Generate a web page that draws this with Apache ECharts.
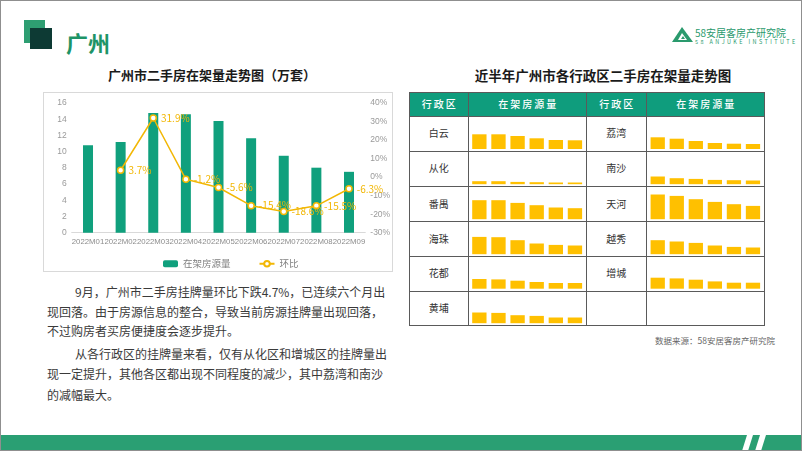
<!DOCTYPE html>
<html>
<head>
<meta charset="utf-8">
<script src="https://cdn.jsdelivr.net/npm/echarts@6/dist/echarts.min.js"></script>
<style>
  html,body{margin:0;padding:0;background:#fff;}
  #page{position:relative;width:802px;height:451px;overflow:hidden;background:#fff;font-family:"Noto Sans CJK SC","Noto Sans",sans-serif;}
  .abs{position:absolute;}
  .pline{position:absolute;font-size:12px;line-height:18px;color:#3a3a3a;white-space:nowrap;}
  .hcell{position:absolute;color:#fff;font-size:10px;line-height:14px;text-align:center;letter-spacing:2px;font-weight:500;}
  .dcell{position:absolute;color:#333;font-size:10px;line-height:14px;text-align:center;}
</style>
</head>
<body>
<div id="page">
  <!-- header icon -->
  <div class="abs" style="left:24px;top:20px;width:21px;height:23px;background:#2e9e72;"></div>
  <div class="abs" style="left:30px;top:28px;width:22px;height:21px;background:#0d3a34;"></div>
  <div class="abs" style="left:66px;top:28px;font-size:22px;line-height:28px;font-weight:700;color:#1e9467;">广州</div>
  <!-- logo -->
  <svg class="abs" style="left:672px;top:27px;" width="22" height="16" viewBox="0 0 22 16">
    <polygon points="10,0 21,15 0,15" fill="#2a9a6d"/>
    <polygon points="10,6 15,13 6,13" fill="#fff"/>
    <polygon points="11,9 13,12 9,12" fill="#2a9a6d"/>
  </svg>
  <div class="abs" style="left:695px;top:27px;font-size:10px;line-height:11px;color:#2a9a6d;white-space:nowrap;">58安居客房产研究院</div>
  <div class="abs" style="left:695px;top:38.5px;font-size:5.5px;line-height:6px;color:#2a9a6d;letter-spacing:2.4px;white-space:nowrap;">58 ANJUKE INSTITUTE</div>

  <!-- chart titles -->
  <div class="abs" style="left:62px;top:66px;width:300px;text-align:center;font-size:13px;line-height:18px;font-weight:700;color:#1a1a1a;">广州市二手房在架量走势图（万套）</div>
  <div class="abs" style="left:453px;top:66px;width:300px;text-align:center;font-size:13.5px;line-height:18px;font-weight:700;color:#1a1a1a;">近半年广州市各行政区二手房在架量走势图</div>

  <!-- main chart box -->
  <div class="abs" style="left:43px;top:92px;width:348px;height:178px;border:1px solid #d9d9d9;"></div>

  <!-- paragraph -->
  <div class="pline" style="left:75px;top:283px;">9月，广州市二手房挂牌量环比下跌4.7%，已连续六个月出</div>
  <div class="pline" style="left:47px;top:303px;">现回落。由于房源信息的整合，导致当前房源挂牌量出现回落，</div>
  <div class="pline" style="left:47px;top:322px;">不过购房者买房便捷度会逐步提升。</div>
  <div class="pline" style="left:75px;top:345px;">从各行政区的挂牌量来看，仅有从化区和增城区的挂牌量出</div>
  <div class="pline" style="left:47px;top:365px;">现一定提升，其他各区都出现不同程度的减少，其中荔湾和南沙</div>
  <div class="pline" style="left:47px;top:386px;">的减幅最大。</div>

  <!-- table container -->
  <div id="table"></div>

  <div class="abs" style="left:600px;top:334px;width:175px;text-align:right;font-size:8.5px;line-height:12px;color:#666;white-space:nowrap;">数据来源：58安居客房产研究院</div>

  <div id="chart" class="abs" style="left:0;top:0;width:802px;height:451px;"></div>

  <!-- bottom band -->
  <div class="abs" style="left:0;top:435px;width:802px;height:16px;background:#2a9f73;"></div>
  <svg class="abs" style="left:0;top:435px;" width="802" height="16">
    <polygon points="747,0 753,0 748,16 742,16" fill="#fff"/>
    <polygon points="760,0 766,0 761,16 755,16" fill="#fff"/>
  </svg>
  <div class="abs" style="left:0;top:0;width:800px;height:449px;border:1px solid #8f8f8f;pointer-events:none;"></div>
</div>
<script>
// ---------- data ----------
const months = ['2022M01','2022M02','2022M03','2022M04','2022M05','2022M06','2022M07','2022M08','2022M09'];
const stock = [10.8, 11.2, 14.77, 14.6, 13.78, 11.66, 9.49, 8.02, 7.51];      // 在架房源量（万套）
const mom = [null, 3.7, 31.9, -1.2, -5.6, -15.4, -18.6, -15.5, -6.3];         // 环比 %
const leftTicks = [0, 2, 4, 6, 8, 10, 12, 14, 16];
const rightTicks = [-30, -20, -10, 0, 10, 20, 30, 40];

const districtMonths = ['2022M04','2022M05','2022M06','2022M07','2022M08','2022M09'];
const leftDistricts = ['白云','从化','番禺','海珠','花都','黄埔'];
const rightDistricts = ['荔湾','南沙','天河','越秀','增城'];
const baiyun   = [1.47, 1.47, 1.30, 1.07, 0.90, 0.87];
const conghua  = [0.30, 0.30, 0.23, 0.20, 0.17, 0.17];
const panyu    = [1.90, 1.90, 1.63, 1.40, 1.17, 1.10];
const haizhu   = [1.73, 1.70, 1.40, 1.07, 0.93, 0.87];
const huadu    = [0.97, 0.93, 0.80, 0.67, 0.57, 0.57];
const huangpu  = [1.07, 1.03, 0.80, 0.73, 0.57, 0.57];
const liwan    = [1.17, 1.03, 0.80, 0.60, 0.53, 0.50];
const nansha   = [0.77, 0.60, 0.53, 0.43, 0.40, 0.37];
const tianhe   = [2.47, 2.33, 2.00, 1.73, 1.50, 1.33];
const yuexiu   = [1.40, 1.27, 1.13, 0.87, 0.73, 0.67];
const zengcheng= [1.10, 1.03, 0.90, 0.73, 0.60, 0.60];
const leftValues = [baiyun, conghua, panyu, haizhu, huadu, huangpu];
const rightValues = [liwan, nansha, tianhe, yuexiu, zengcheng];
const miniMax = 3.0;

// ---------- table layout ----------
const colX = [409, 468.3, 586, 646.7, 764];
const rowY = [92.5, 116, 151.3, 186.5, 221.5, 256.5, 291, 325.5];
const lineColor = '#5a5a5a';
const tbl = document.getElementById('table');
function add(html){ tbl.insertAdjacentHTML('beforeend', html); }
add(`<div class="abs" style="left:${colX[0]}px;top:${rowY[0]}px;width:${colX[4]-colX[0]}px;height:${rowY[1]-rowY[0]}px;background:#0f9d7d;"></div>`);
rowY.forEach(y => add(`<div class="abs" style="left:${colX[0]}px;top:${y-0.5}px;width:${colX[4]-colX[0]+1}px;height:1px;background:${lineColor};"></div>`));
colX.forEach(x => add(`<div class="abs" style="left:${x-0.5}px;top:${rowY[0]}px;width:1px;height:${rowY[rowY.length-1]-rowY[0]}px;background:${lineColor};"></div>`));
const headers = ['行政区','在架房源量','行政区','在架房源量'];
headers.forEach((h,i) => add(`<div class="hcell" style="left:${colX[i]+1}px;top:${(rowY[0]+rowY[1])/2-7}px;width:${colX[i+1]-colX[i]}px;">${h}</div>`));
leftDistricts.forEach((d,i) => add(`<div class="dcell" style="left:${colX[0]}px;top:${(rowY[i+1]+rowY[i+2])/2-7.5}px;width:${colX[1]-colX[0]}px;">${d}</div>`));
rightDistricts.forEach((d,i) => add(`<div class="dcell" style="left:${colX[2]}px;top:${(rowY[i+1]+rowY[i+2])/2-7.5}px;width:${colX[3]-colX[2]}px;">${d}</div>`));

// ---------- echarts ----------
const chart = echarts.init(document.getElementById('chart'), null, {renderer:'canvas'});
const gold = '#F2B705';
const grids = [{left:71.7, top:103, width:293.6, height:129.7}];
const xAxes = [{
  type:'category', data:months, gridIndex:0,
  axisLine:{lineStyle:{color:'#d9d9d9'}}, axisTick:{show:false},
  axisLabel:{color:'#8c8c8c', fontSize:7.8, fontFamily:'"Liberation Sans",sans-serif', margin:5, interval:0, hideOverlap:false}
}];
const yAxes = [
  {type:'value', gridIndex:0, min:leftTicks[0], max:leftTicks[leftTicks.length-1], interval:leftTicks[1]-leftTicks[0],
   splitLine:{show:false}, axisLine:{show:false}, axisTick:{show:false},
   axisLabel:{color:'#9a9a9a', fontSize:8.5, fontFamily:'"Liberation Sans",sans-serif', margin:5}},
  {type:'value', gridIndex:0, position:'right', min:rightTicks[0], max:rightTicks[rightTicks.length-1], interval:rightTicks[1]-rightTicks[0],
   splitLine:{show:false}, axisLine:{show:false}, axisTick:{show:false},
   axisLabel:{color:'#9a9a9a', fontSize:8.5, fontFamily:'"Liberation Sans",sans-serif', margin:5, formatter:'{value}%'}}
];
const series = [
  {name:'在架房源量', type:'bar', xAxisIndex:0, yAxisIndex:0, data:stock, barWidth:10,
   itemStyle:{color:'#10a07d'}},
  {name:'环比', type:'line', xAxisIndex:0, yAxisIndex:1, data:mom,
   lineStyle:{color:gold, width:1.5}, symbol:'circle', symbolSize:6,
   itemStyle:{color:'#fff', borderColor:gold, borderWidth:1.5},
   label:{show:true, position:'right', formatter:p=>p.value+'%', color:gold, fontSize:10, distance:4}}
];
function addMini(values, col, row){
  const l = colX[col*2+1], r = colX[col*2+2];
  const bottom = rowY[row+2] - 2.3;
  const gi = grids.length;
  grids.push({left:l+1.5, width:r-l-3, top:bottom-30, height:30});
  const xi = xAxes.length, yi = yAxes.length;
  xAxes.push({type:'category', gridIndex:gi, data:districtMonths, show:false});
  yAxes.push({type:'value', gridIndex:gi, min:0, max:miniMax, show:false});
  series.push({type:'bar', xAxisIndex:xi, yAxisIndex:yi, data:values, barWidth:'75%',
    itemStyle:{color:'#FFC000'}, silent:true});
}
leftValues.forEach((v,i)=>addMini(v,0,i));
rightValues.forEach((v,i)=>addMini(v,1,i));

chart.setOption({
  animation:false,
  textStyle:{fontFamily:'"Noto Sans CJK SC","Noto Sans",sans-serif'},
  legend:{data:['在架房源量','环比'], left:158, top:254, itemWidth:15, itemHeight:7, itemGap:28,
    textStyle:{color:'#7f7f7f', fontSize:9.5}},
  grid:grids, xAxis:xAxes, yAxis:yAxes, series:series
});
</script>
</body>
</html>
